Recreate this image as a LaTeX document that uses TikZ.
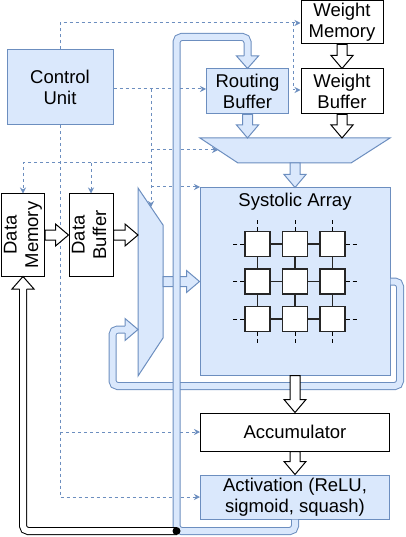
\documentclass[tikz,border=0pt]{standalone}
\usepackage{fontspec}
\setmainfont{Liberation Sans}
\usetikzlibrary{arrows.meta,calc}
\definecolor{boxfill}{HTML}{DAE8FC}
\definecolor{boxline}{HTML}{6C8EBF}
\newcommand{\flexarrow}[3][]{%
  \coordinate (fabase) at ($(#3)!13pt!(#2)$);
  \draw[#1] ($(#2)!5pt!90:(#3)$) -- ($(fabase)!5pt!90:(#3)$)
    -- ($(fabase)!11pt!90:(#3)$) -- (#3) -- ($(fabase)!11pt!-90:(#3)$)
    -- ($(fabase)!5pt!-90:(#3)$) -- ($(#2)!5pt!-90:(#3)$) -- cycle;}
\newcommand{\flexhead}[3][]{%
  \draw[#1] ($(#2)!3.5pt!90:(#3)$) -- ($(#2)!11pt!90:(#3)$) -- (#3)
    -- ($(#2)!11pt!-90:(#3)$) -- ($(#2)!3.5pt!-90:(#3)$);}
\newcommand{\vtext}[1]{\rotatebox{90}{\begin{tabular}{@{}c@{}}#1\end{tabular}}}
\begin{document}
\begin{tikzpicture}[x=1pt,y=-1pt,
	every node/.style={font=\fontsize{18.5}{21.5}\selectfont, align=center, inner sep=0pt},
	bbox/.style={draw=boxline, fill=boxfill, line width=1pt},
	wbox/.style={draw=black, fill=white, line width=1pt},
	pe/.style={draw=black!85, fill=white, line width=1.3pt, minimum size=25pt},
	link/.style={draw=black!85, line width=1.2pt},
	stub/.style={draw=black, line width=1pt, dash pattern=on 4pt off 3pt},
	ctrl/.style={draw=boxline, line width=1pt, dash pattern=on 3pt off 3pt,
		-{Stealth[length=6pt,width=6pt,inset=2pt]}},
	bus/.style={draw=boxline, line width=1pt, double=boxfill, double distance=6pt, rounded corners=5pt},
	cable/.style={draw=black, line width=1pt, double=white, double distance=6pt, rounded corners=5pt}]

	\useasboundingbox (0,0) rectangle (406,537);

	\node[bbox, minimum width=106pt, minimum height=75pt] (cu) at (60,87.5) {Control\\Unit};
	\node[wbox, minimum width=82pt, minimum height=43.5pt] (wmem) at (342,22.25) {Weight\\Memory};
	\node[wbox, minimum width=82pt, minimum height=45pt] (wbuf) at (342,91.5) {Weight\\Buffer};
	\node[bbox, minimum width=82pt, minimum height=45pt] (rbuf) at (247.5,91.5) {Routing\\Buffer};
	\node[wbox, minimum width=42pt, minimum height=82pt] (dmem) at (23,235) {\vtext{Data\\Memory}};
	\node[wbox, minimum width=44pt, minimum height=82pt] (dbuf) at (91,235) {\vtext{Data\\Buffer}};

	% control lines
	\draw[ctrl] (cu.north) |- (wmem.west |- 0,23);
	\draw[ctrl] (293,23) |- (wbuf.west |- 0,90);
	\draw[ctrl] (cu.east |- 0,89) -- (rbuf.west |- 0,89);
	\draw[ctrl] (151,89) -- (151,207);
	\draw[ctrl] (151,150) -- (218,150);
	\draw[ctrl] (151,187) -- (200,187);
	\draw[ctrl] (151,163) -| (dmem.north);
	\draw[ctrl] (91,163) -- (dbuf.north);
	\draw[ctrl] (cu.south) |- (0,497 -| 200,0);
	\draw[ctrl] (60,432) -- (200,432);

	\node[bbox, minimum width=190pt, minimum height=187pt] (sa) at (295,281.5) {};
	\node (satxt) at (295,202) {Systolic Array};
	\node[wbox, minimum width=189pt, minimum height=38pt] (acc) at (295,432) {Accumulator};
	\node[bbox, minimum width=189pt, minimum height=44pt] (act) at (295,497) {Activation (ReLU,\\sigmoid, squash)};

	% muxes
	\draw[bbox] (200,138) coordinate (hm-nw) -- (390,138) coordinate (hm-ne)
		-- (351,163) coordinate (hm-se) -- (238,163) coordinate (hm-sw) -- cycle;
	\draw[bbox] (138,188) coordinate (vm-nw) -- (163,225) coordinate (vm-ne)
		-- (163,338) coordinate (vm-se) -- (138,376) coordinate (vm-sw) -- cycle;

	% processing elements
	\foreach \i in {0,1,2}
		\foreach \j in {0,1,2}
			\node[pe] (pe\i\j) at ({257.5+37.5*\i},{244+37.5*\j}) {};
	\foreach \k in {0,1,2} {
		\draw[link] (pe0\k) -- (pe1\k) -- (pe2\k);
		\draw[link] (pe\k0) -- (pe\k1) -- (pe\k2);
		\draw[stub] (pe\k0.north) -- ++(0,-12);
		\draw[stub] (pe\k2.south) -- ++(0,12);
		\draw[stub] (pe0\k.west) -- ++(-12,0);
		\draw[stub] (pe2\k.east) -- ++(12,0);
	}

	% data flow
	\flexarrow[wbox]{wmem.south}{wbuf.north}
	\flexarrow[wbox]{wbuf.south}{wbuf.south |- hm-nw}
	\flexarrow[bbox]{rbuf.south}{rbuf.south |- hm-nw}
	\flexarrow[bbox]{sa.north |- hm-sw}{sa.north}
	\flexarrow[wbox]{dmem.east}{dbuf.west}
	\flexarrow[wbox]{dbuf.east}{dbuf.east -| vm-nw}
	\flexarrow[bbox]{vm-ne |- sa.west}{sa.west}

	\draw[bus] (sa.east) -- (400,281.5) -- (400,386) -- (112.5,386) -- (112.5,329.5) -- (125,329.5);
	\flexhead[bbox]{125,329.5}{vm-nw |- 0,329.5}

	\coordinate (tap) at (176.5,531);
	\draw[bus] (act.south) -- (295,531) -- (tap) -- (176.5,37) -- (247.5,37) -- (247.5,56);
	\flexhead[bbox]{247.5,56}{rbuf.north}

	\flexarrow[wbox]{sa.south}{acc.north}
	\flexarrow[wbox]{acc.south}{act.north}

	\draw[cable] (tap) -- (23,531) -- (23,289);
	\flexhead[wbox]{23,289}{dmem.south}
	\fill (tap) circle (4pt);
\end{tikzpicture}
\end{document}
